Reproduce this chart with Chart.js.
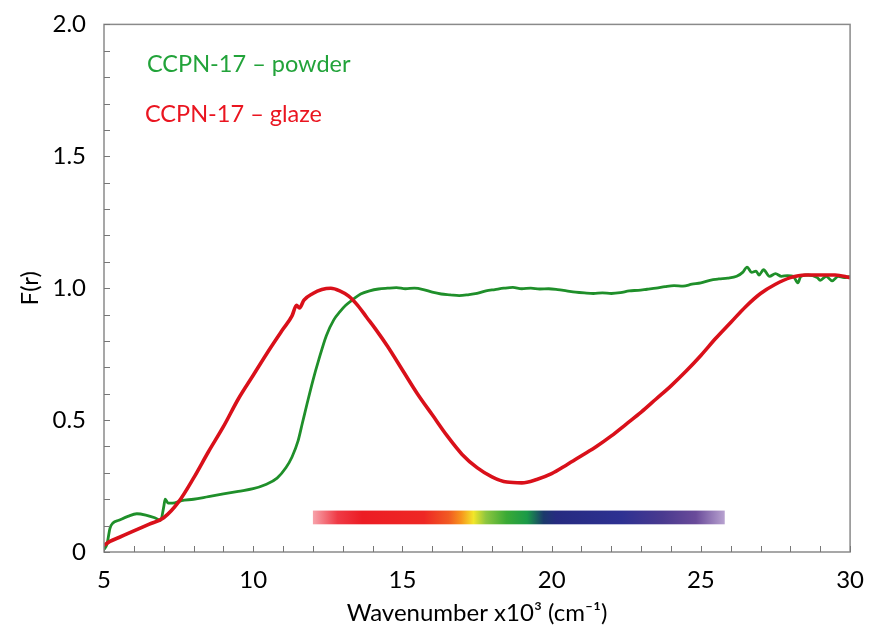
<!DOCTYPE html>
<html>
<head>
<meta charset="utf-8">
<script src="https://cdn.jsdelivr.net/npm/chart.js@4/dist/chart.umd.min.js"></script>
<style>
html,body{margin:0;padding:0;background:#fff;}
#wrap{width:870px;height:628px;}
</style>
</head>
<body>
<div id="wrap"><canvas id="c" width="870" height="628"></canvas></div>
<script>
// ---- data ----
const powderX = [5.0,5.1,5.2,5.3,5.5,5.8,6.1,6.4,6.7,6.9,7.0,7.05,7.15,7.3,7.6,8.0,8.5,9.0,9.5,10.0,10.4,10.8,11.1,11.3,11.5,11.65,11.8,12.0,12.2,12.45,12.7,12.9,13.1,13.35,13.6,13.9,14.2,14.5,14.8,15.1,15.4,15.7,16.0,16.3,16.6,16.9,17.2,17.5,17.8,18.1,18.4,18.7,19.0,19.3,19.6,19.9,20.2,20.5,20.8,21.1,21.4,21.7,22.0,22.3,22.6,22.9,23.2,23.5,23.8,24.1,24.4,24.7,25.0,25.3,25.6,25.9,26.2,26.4,26.55,26.7,26.85,26.95,27.1,27.3,27.5,27.7,27.9,28.1,28.25,28.35,28.6,28.9,29.0,29.2,29.4,29.6,29.8,30.0];
const powderY = [0.01,0.03,0.09,0.11,0.12,0.135,0.145,0.14,0.13,0.12,0.17,0.2,0.185,0.185,0.195,0.2,0.21,0.22,0.23,0.24,0.255,0.28,0.32,0.36,0.42,0.49,0.56,0.65,0.73,0.82,0.88,0.91,0.935,0.958,0.978,0.99,0.997,1.0,1.002,0.998,1.0,0.995,0.985,0.978,0.975,0.972,0.975,0.98,0.99,0.995,1.0,1.003,0.998,1.0,0.997,0.998,0.995,0.99,0.985,0.982,0.98,0.982,0.98,0.983,0.99,0.992,0.996,1.0,1.006,1.01,1.008,1.015,1.02,1.03,1.035,1.038,1.045,1.06,1.08,1.06,1.065,1.05,1.07,1.045,1.055,1.045,1.048,1.045,1.02,1.045,1.05,1.04,1.03,1.045,1.028,1.045,1.04,1.045];

const glazeX = [5.0,5.2,5.5,6.0,6.5,7.0,7.5,8.0,8.5,9.0,9.5,10.0,10.5,11.0,11.3,11.45,11.55,11.7,12.0,12.3,12.6,12.9,13.2,13.5,13.8,14.1,14.5,15.0,15.5,16.0,16.5,17.0,17.5,18.0,18.5,19.0,19.5,20.0,20.5,21.0,21.5,22.0,22.5,23.0,23.5,24.0,24.5,25.0,25.5,26.0,26.5,27.0,27.5,28.0,28.5,29.0,29.5,30.0];
const glazeY = [0.025,0.04,0.055,0.08,0.105,0.13,0.19,0.28,0.38,0.475,0.58,0.67,0.76,0.845,0.895,0.935,0.925,0.955,0.98,0.995,1.0,0.99,0.97,0.935,0.89,0.845,0.78,0.69,0.6,0.52,0.44,0.37,0.32,0.285,0.265,0.262,0.275,0.297,0.33,0.365,0.40,0.44,0.485,0.53,0.58,0.63,0.685,0.745,0.81,0.87,0.93,0.98,1.015,1.04,1.05,1.05,1.05,1.04];

const seriesNames = ["CCPN-17 \u2013 powder", "CCPN-17 \u2013 glaze"];
const xTickLabels = ["5","10","15","20","25","30"];
const yTickLabels = ["0","0.5","1.0","1.5","2.0"];
const spectrumX = [12.0, 25.8];
const spectrumY = [0.105, 0.157];

const toPts = (xs, ys) => xs.map((x, i) => ({x: x, y: ys[i]}));
const FONT = "Lato, 'Open Sans', sans-serif";

const framePlugin = {
  id: 'frame',
  beforeDatasetsDraw(chart) {
    const {ctx, scales: {x, y}} = chart;
    const x0 = x.getPixelForValue(spectrumX[0]), x1 = x.getPixelForValue(spectrumX[1]);
    const y0 = y.getPixelForValue(spectrumY[1]), y1 = y.getPixelForValue(spectrumY[0]);
    const g = ctx.createLinearGradient(x0, 0, x1, 0);
    const stops = [[0,'#f7a3ab'],[0.06,'#ef3a45'],[0.12,'#ec1c24'],[0.27,'#ee2724'],[0.33,'#f15a22'],[0.36,'#f7941d'],[0.39,'#f2e62a'],[0.42,'#8dc63f'],[0.47,'#3aaa35'],[0.52,'#1a9a48'],[0.56,'#1b3a6b'],[0.59,'#262b80'],[0.75,'#2e3192'],[0.85,'#4a3a8f'],[0.93,'#6a4b9a'],[1,'#b8a2d0']];
    stops.forEach(s => g.addColorStop(s[0], s[1]));
    ctx.save();
    ctx.fillStyle = g;
    ctx.fillRect(x0, y0, x1 - x0, y1 - y0);
    ctx.restore();
  },
  afterDatasetsDraw(chart) {
    const {ctx, chartArea: a, scales: {x, y}} = chart;
    ctx.save();
    ctx.strokeStyle = '#8a8a8a';
    ctx.lineWidth = 1.5;
    ctx.strokeRect(a.left, a.top, a.right - a.left, a.bottom - a.top);
    ctx.lineWidth = 1;
    ctx.strokeStyle = '#777';
    ctx.beginPath();
    for (let v = 5; v <= 30.001; v += 1) {
      const px = Math.round(x.getPixelForValue(v)) + 0.5;
      ctx.moveTo(px, a.bottom); ctx.lineTo(px, a.bottom - 6);
    }
    for (let i = 0; i <= 20; i++) {
      const py = Math.round(y.getPixelForValue(i / 10)) + 0.5;
      ctx.moveTo(a.left, py); ctx.lineTo(a.left + 6, py);
    }
    ctx.stroke();
    ctx.font = "23.5px " + FONT;
    ctx.textBaseline = 'middle';
    ctx.fillStyle = '#22a33a';
    ctx.fillText(seriesNames[0], a.left + 43, a.top + 40);
    ctx.fillStyle = '#ea1520';
    ctx.fillText(seriesNames[1], a.left + 41, a.top + 90);
    ctx.restore();
  }
};

new Chart(document.getElementById('c'), {
  type: 'scatter',
  data: {
    datasets: [
      {label: seriesNames[0], data: toPts(powderX, powderY), showLine: true, borderColor: '#1f8f2a', borderWidth: 2.8, pointRadius: 0, cubicInterpolationMode: 'monotone', order: 2},
      {label: seriesNames[1], data: toPts(glazeX, glazeY), showLine: true, borderColor: '#d9101a', borderWidth: 3.6, pointRadius: 0, cubicInterpolationMode: 'monotone', order: 1}
    ]
  },
  options: {
    responsive: false,
    animation: false,
    layout: {padding: {top: 18, right: 19, left: 16, bottom: 0}},
    plugins: {legend: {display: false}, tooltip: {enabled: false}},
    scales: {
      x: {
        type: 'linear', min: 5, max: 30,
        grid: {display: false}, border: {display: false},
        afterBuildTicks(s) { s.ticks = xTickLabels.map(t => ({value: Number(t)})); },
        ticks: {color: '#000', font: {size: 24, family: FONT}, padding: 6, maxRotation: 0,
          callback: (v, i) => xTickLabels[i]},
        title: {display: true, text: 'Wavenumber x10\u00B3 (cm\u207B\u00B9)', color: '#000', font: {size: 24, family: FONT}, padding: {top: 4, bottom: 0}},
        afterFit(s) { s.height = 76; }
      },
      y: {
        min: 0, max: 2,
        grid: {display: false}, border: {display: false},
        afterBuildTicks(s) { s.ticks = yTickLabels.map(t => ({value: Number(t)})); },
        ticks: {color: '#000', font: {size: 24, family: FONT}, padding: 10,
          callback: (v, i) => yTickLabels[i]},
        title: {display: true, text: 'F(r)', color: '#000', font: {size: 24, family: FONT}, padding: {top: 0, bottom: 8}},
        afterFit(s) { s.width = 88; }
      }
    }
  },
  plugins: [framePlugin]
});
</script>
</body>
</html>
